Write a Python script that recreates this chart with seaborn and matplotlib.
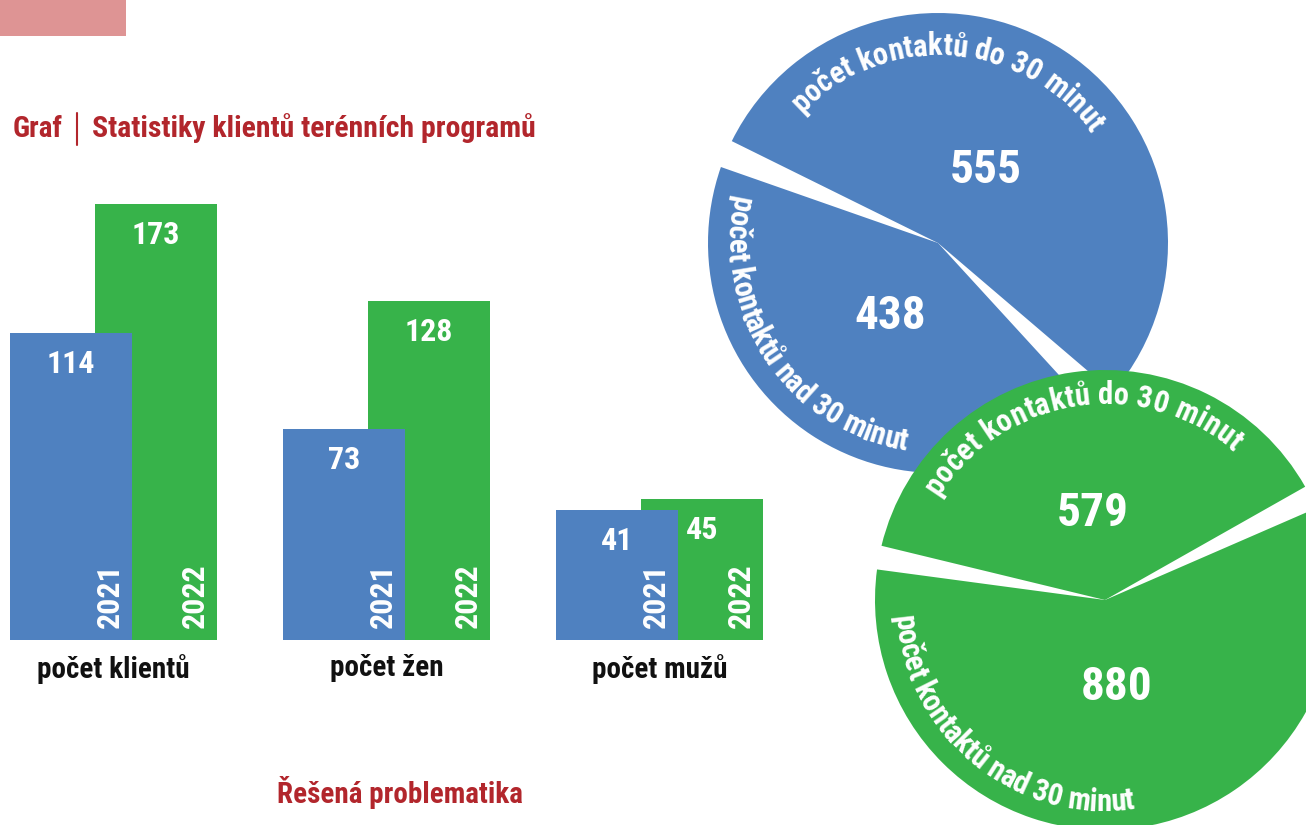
import numpy as np
import matplotlib
matplotlib.use("Agg")
import matplotlib.pyplot as plt
import seaborn as sns
from matplotlib import font_manager
from matplotlib.patches import Rectangle
from matplotlib.lines import Line2D

# --- data -------------------------------------------------------------
categories = ["počet klientů", "počet žen", "počet mužů"]
values_2021 = [114, 73, 41]
values_2022 = [173, 128, 45]
years = ["2021", "2022"]

contact_labels = ["počet kontaktů do 30 minut", "počet kontaktů nad 30 minut"]
contacts_2021 = [555, 438]
contacts_2022 = [579, 880]

title_left = "Graf"
title_right = "Statistiky klientů terénních programů"
footer = "Řešená problematika"

BLUE = "#4F81C0"
GREEN = "#37B34A"
RED = "#B2262C"
PINK = "#DE9494"
W, H = 1306, 825


def pick_font():
    names = {f.name for f in font_manager.fontManager.ttflist}
    for cand in ["Roboto Condensed", "Liberation Sans Narrow", "Open Sans Condensed",
                 "DejaVu Sans Condensed", "Noto Sans Condensed"]:
        if cand in names:
            return cand
    for n in sorted(names):
        if "Narrow" in n or "Condensed" in n:
            return n
    return "DejaVu Sans"


sns.set_theme(style="white")
FONT = pick_font()
plt.rcParams["font.family"] = [FONT, "DejaVu Sans"]
plt.rcParams["font.weight"] = "bold"

fig = plt.figure(figsize=(W / 100, H / 100), dpi=100)
fig.patch.set_facecolor("white")

# --- bar chart ----------------------------------------------------------
base_px, top_px = 640, 204
ax = fig.add_axes([0, (H - base_px) / H, 1, (base_px - top_px) / H])
ax.set_facecolor("none")
pos = np.arange(len(categories))
shift, bar_w = 0.311, 0.447
sns.barplot(x=pos + shift, y=values_2022, native_scale=True, orient="x", width=bar_w,
            color=GREEN, saturation=1, errorbar=None, linewidth=0, edgecolor="none", ax=ax)
sns.barplot(x=pos, y=values_2021, native_scale=True, orient="x", width=bar_w,
            color=BLUE, saturation=1, errorbar=None, linewidth=0, edgecolor="none", ax=ax)
p = 0.84
ax.set_yscale("function", functions=(lambda v: np.sign(v) * np.abs(v) ** p,
                                     lambda v: np.sign(v) * np.abs(v) ** (1 / p)))
ax.set_ylim(0, max(values_2022))
ax.set_xlim(-71 / 273, (W - 71) / 273)
ax.set_yticks([])
ax.set_xticks(pos + shift / 2, labels=categories)
ax.tick_params(axis="x", length=0, pad=10, labelsize=21, labelcolor="#111111")
ax.set_xlabel("")
ax.set_ylabel("")
sns.despine(ax=ax, left=True, bottom=True)

for cont, yr, vals in zip(ax.containers, years[::-1], [values_2022, values_2021]):
    ax.bar_label(cont, labels=[str(v) for v in vals], padding=-33, color="white",
                 fontsize=23, fontweight="bold")
    for bar in cont:
        ax.annotate(yr, (bar.get_x() + bar.get_width(), 0), xytext=(-16, 9),
                    textcoords="offset points", rotation=90, ha="center", va="bottom",
                    color="white", fontsize=23, fontweight="bold")

# --- pies -----------------------------------------------------------------
pax = fig.add_axes([0, 0, 1, 1])
pax.set_facecolor("none")
R = 230
renderer = fig.canvas.get_renderer()


def draw_pie(values, center, color, start, gap, z):
    total = sum(values)
    wedges, _, autotexts = pax.pie(
        values, center=center, radius=R, startangle=start, colors=[color] * len(values),
        autopct=lambda pc: f"{pc * total / 100:.0f}", pctdistance=0.38,
        textprops=dict(color="white", fontsize=34, fontweight="bold"),
        wedgeprops=dict(linewidth=0, zorder=z))
    for w in wedges:
        w.set_theta1(w.theta1 + gap)
        w.set_theta2(w.theta2 - gap)
    for t in autotexts:
        t.set_zorder(z + 0.5)


def arc_text(text, center, rc, a0, a1, tops_out, size, z):
    prop = font_manager.FontProperties(family=[FONT, "DejaVu Sans"], weight="bold", size=size)

    def width(s):
        return renderer.get_text_width_height_descent(s, prop, ismath=False)[0]

    idx = [i for i, ch in enumerate(text) if ch != " "]
    centers = {i: width(text[:i + 1]) - width(text[i]) / 2 for i in idx}
    c0, c1 = centers[idx[0]], centers[idx[-1]]
    em = size * 100 / 72
    rb = rc - 0.27 * em if tops_out else rc + 0.27 * em
    for i in idx:
        frac = (centers[i] - c0) / (c1 - c0)
        th = np.radians(a0 + (a1 - a0) * frac)
        rot = np.degrees(th) - 90 if tops_out else np.degrees(th) + 90
        pax.text(center[0] + rb * np.cos(th), center[1] + rb * np.sin(th), text[i],
                 rotation=rot, rotation_mode="anchor", ha="center", va="baseline",
                 fontproperties=prop, color="white", zorder=z)


blue_c = (938, H - 243)
green_c = (1105, H - 600)
draw_pie(contacts_2021, blue_c, BLUE, -44.0, 3.5, 1)
arc_text(contact_labels[0], blue_c, 196, 134, 37, True, 22, 2)
arc_text(contact_labels[1], blue_c, 202, 169, 260, False, 22, 2)
draw_pie(contacts_2022, green_c, GREEN, 26.5, 3.0, 3)
arc_text(contact_labels[0], green_c, 204, 146, 50.5, True, 22, 4)
arc_text(contact_labels[1], green_c, 203, 186.5, 277, False, 22, 4)
pax.set_xlim(0, W)
pax.set_ylim(0, H)
pax.set_aspect("auto")
pax.axis("off")

# --- titles and decorations ----------------------------------------------
fig.add_artist(Rectangle((0, 1 - 36 / H), 126 / W, 36 / H, transform=fig.transFigure,
                         color=PINK, lw=0))
fig.text(13 / W, 1 - 137 / H, title_left, color=RED, fontsize=21, fontweight="bold",
         ha="left", va="baseline")
fig.add_artist(Line2D([77 / W, 77 / W], [1 - 113 / H, 1 - 145 / H], color=RED, lw=1.5,
                      transform=fig.transFigure))
fig.text(92 / W, 1 - 137 / H, title_right, color=RED, fontsize=21.4, fontweight="bold",
         ha="left", va="baseline")
fig.text(400 / W, 1 - 803 / H, footer, color=RED, fontsize=21, fontweight="bold",
         ha="center", va="baseline")

fig.savefig("out.png", dpi=100)
